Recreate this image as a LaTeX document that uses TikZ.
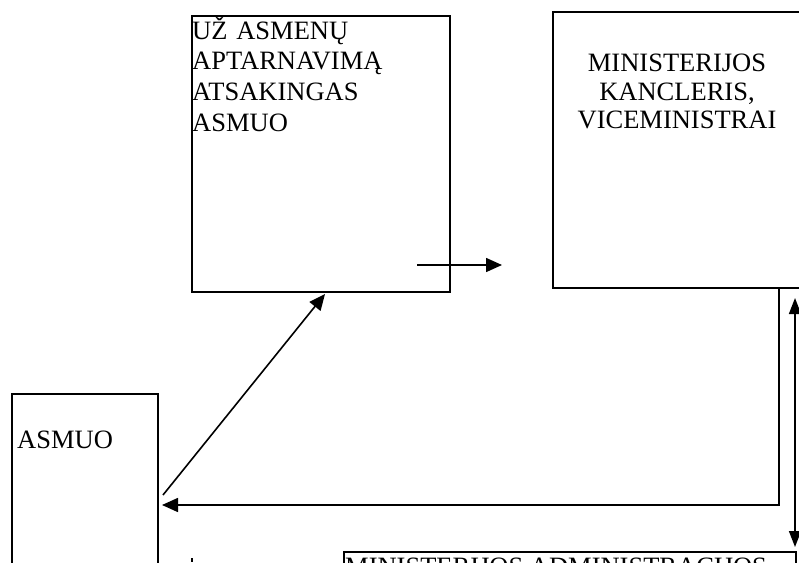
\documentclass[tikz,border=0pt]{standalone}
\usepackage{fontspec}
\setmainfont{Liberation Serif}
\usetikzlibrary{arrows.meta}
\begin{document}
\begin{tikzpicture}[x=1pt,y=-1pt,
  box/.style={draw,line width=1.6pt,rectangle,inner sep=0pt,anchor=north west},
  lbl/.style={inner sep=0pt,font=\fontsize{26.5}{30.6}\selectfont},
  tip/.style={},
  conn/.style={line width=1.6pt,-{Triangle[length=16pt,width=14pt]}},
  dconn/.style={line width=1.6pt,{Triangle[length=16pt,width=12pt]}-{Triangle[length=16pt,width=12pt]}},
  plain/.style={line width=1.5pt}]
\useasboundingbox (0,0) rectangle (799,562);
\clip (0,0) rectangle (799,562);
\fill[white] (0,0) rectangle (799,562);
% boxes
\node[box,minimum width=258pt,minimum height=276pt] (resp) at (191,15) {};
\node[box,minimum width=254pt,minimum height=276pt] (chanc) at (552,11) {};
\node[box,minimum width=146pt,minimum height=220pt] (person) at (11,393) {};
\node[box,minimum width=452pt,minimum height=80pt] (admin) at (343,551) {};
% texts
\node[lbl,anchor=base west,text width=250pt,align=left] (resptxt) at (192,39.3)
  {UŽ ASMENŲ\\APTARNAVIMĄ\\ATSAKINGAS\\ASMUO};
\node[lbl,anchor=base,text width=240pt,align=center,font=\fontsize{26.5}{28.3}\selectfont] (chanctxt) at (677,71.7)
  {MINISTERIJOS\\KANCLERIS,\\VICEMINISTRAI};
\node[lbl,anchor=base west] (persontxt) at (17,448) {ASMUO};
\node[lbl,anchor=base west] (admintxt) at (345,575.5) {MINISTERIJOS ADMINISTRACIJOS};
% connector end points
\coordinate (p1) at (163,495);
\coordinate (r1) at (325,294);
\coordinate (r2) at (417,265);
\coordinate (r3) at (502,265);
\coordinate (c1) at (779,287);
\coordinate (pin) at (162,505);
\coordinate (d1) at (795,298);
\coordinate (d2) at (795,547);
\coordinate (m1) at (192,558);
\coordinate (m2) at (192,562);
% connectors
\draw[conn] (p1) -- (r1);
\draw[conn] (r2) -- (r3);
\draw[conn] (c1) |- (pin);
\draw[dconn] (d1) -- (d2);
\draw[plain] (m1) -- (m2);
\end{tikzpicture}
\end{document}
